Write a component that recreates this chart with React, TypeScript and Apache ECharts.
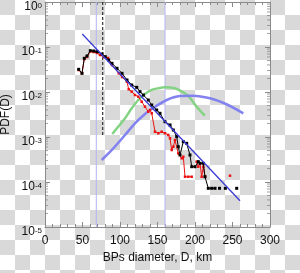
import React, { useEffect, useRef } from "react";
import * as echarts from "echarts";

// Axis tick values
const xTickValues = [0, 50, 100, 150, 200, 250, 300];
const yDecades = [1, 1e-1, 1e-2, 1e-3, 1e-4, 1e-5];
const yMinorTickValues: number[] = [];
for (let d = -5; d < 0; d++) for (let m = 2; m <= 9; m++) yMinorTickValues.push(m * Math.pow(10, d));

// Observed distribution (black, with gaps where PDF = 0)
const blackD = [44.9, 49.3, 52.4, 56, 60.4, 64.9, 69.3, 76, 80.4, 84.9, 89.3, 96, 102.7, 109.3, 115.6, 122.3, 126.7, 131.1, 137.7, 142.3, 148.9, 153.3, 160, 166.7, 171.1, 175.6, 177.7, 180, 184.4, 188.9, 193.3, 195.6, 200, 204.4, 206.7, 211.1, 213.3, 217.7, 222.3, 226.7, 229, 232.7, 236, 240.5, 248, 255.6];
const blackPdf: (number | null)[] = [0.0319, 0.026, 0.0561, 0.0631, 0.0828, 0.0815, 0.0787, 0.0699, 0.0609, 0.0514, 0.0434, 0.0336, 0.026, 0.0185, 0.0143, 0.0127, 0.0102, 0.00857, 0.00664, 0.00514, 0.00398, 0.00336, 0.00219, 0.00185, 0.00143, 0.00102, 0.000608, 0.000398, 0.000787, 0.000724, 0.000398, 0.000219, 0.000219, 0.000283, 0.00026, 0.00026, 0.000131, 7.24e-5, 7.24e-5, 7.24e-5, null, 7.24e-5, null, 7.24e-5, null, 7.24e-5];

// Second observed distribution (red)
const redD = [44.9, 49.3, 52.4, 56, 60.4, 64.9, 69.3, 73.3, 78.7, 84, 89.3, 98.3, 102.7, 109.3, 111.6, 115.6, 120, 124.4, 128.9, 133.3, 137.7, 140, 142.3, 146.7, 151.1, 155.6, 160, 164.4, 166.7, 168.9, 171.1, 173.3, 177.7, 182.3, 184.4, 186.7, 191.1, 195.6, 199, 202.2, 204.4, 206.7, 208.9, 211.1, 213.3, 230, 246.7];
const redPdf: (number | null)[] = [0.0308, 0.026, 0.0541, 0.06, 0.0794, 0.0774, 0.0736, 0.0664, 0.06, 0.057, 0.0398, 0.026, 0.0215, 0.0169, 0.0115, 0.0102, 0.00857, 0.00787, 0.00608, 0.00471, 0.00365, 0.00398, 0.00336, 0.00131, 0.00121, 0.00131, 0.00121, 0.00111, 0.000935, 0.000514, 0.000608, 0.000857, 0.000434, 0.000336, 0.000365, 0.000131, 0.000131, 0.000131, null, 0.000283, 0.000219, 0.00026, 0.000131, 0.000219, 0.000131, null, 0.000138];

// Green model curve
const greenD = [89.7, 106.7, 115.6, 124.4, 133.3, 142.3, 151.1, 160, 173.3, 180, 190, 196, 202.2, 213.3];
const greenPdf = [0.00117, 0.0026, 0.00434, 0.00664, 0.00903, 0.0111, 0.0121, 0.0127, 0.0121, 0.0107, 0.0085, 0.0065, 0.00471, 0.00297];

// Blue model curve
const blueD = [75.6, 91.1, 106.7, 120, 133.3, 140, 162.3, 180, 197.3, 220, 241.3, 264.4];
const bluePdf = [0.000308, 0.000561, 0.00111, 0.00201, 0.00324, 0.00398, 0.00664, 0.00815, 0.00828, 0.00724, 0.00541, 0.00336];

// Straight-line fit
const fitD = [49.7, 260];
const fitPdf = [0.194, 3.84e-5];

// Vertical reference lines
const blueVLines = [68.4, 160];
const dashedVLine = 76.9;
const dashedTop = 1;
const dashedBottom = 1e-3;

const zip = (xs: number[], ys: (number | null)[]) =>
  xs.map((x, i) => [x, ys[i] === null ? "-" : ys[i]]);

const FONT = "'Liberation Sans', Arial, Helvetica, sans-serif";
const AXIS_COLOR = "#8a8a8a";

export default function App() {
  const ref = useRef<HTMLDivElement>(null);
  useEffect(() => {
    const chart = echarts.init(ref.current!, null, { renderer: "svg" });
    const commonX = {
      type: "value",
      min: xTickValues[0],
      max: xTickValues[xTickValues.length - 1],
      interval: xTickValues[1] - xTickValues[0],
      axisLine: { show: true, onZero: false, lineStyle: { color: AXIS_COLOR, width: 1 } },
      axisTick: { show: true, inside: true, length: 5, lineStyle: { color: AXIS_COLOR } },
      minorTick: { show: true, splitNumber: 5, length: 3, lineStyle: { color: AXIS_COLOR } },
      splitLine: { show: false },
    };
    const commonY = {
      type: "log",
      logBase: 10,
      min: 1e-5,
      max: 1,
      interval: 1,
      axisLine: { show: true, onZero: false, lineStyle: { color: AXIS_COLOR, width: 1 } },
      axisTick: { show: true, inside: true, length: 5, lineStyle: { color: AXIS_COLOR } },
      splitLine: { show: false },
    };
    const minorTickStyle = { color: AXIS_COLOR };
    const gridBox = { left: 45, top: 2, width: 225, height: 225, containLabel: false, outerBoundsMode: "none" };
    chart.setOption({
      animation: false,
      grid: [gridBox, { ...gridBox }],
      xAxis: [
        { ...commonX, gridIndex: 0, position: "bottom", axisLabel: { show: false } },
        { ...commonX, gridIndex: 0, position: "top", axisLabel: { show: false } },
        {
          type: "value",
          gridIndex: 1,
          position: "bottom",
          min: xTickValues[0],
          max: xTickValues[xTickValues.length - 1],
          interval: xTickValues[1] - xTickValues[0],
          axisLine: { show: false, onZero: false },
          axisTick: { show: false },
          splitLine: { show: false },
          axisLabel: {
            show: true,
            showMinLabel: true,
            showMaxLabel: true,
            margin: 7,
            fontSize: 12,
            lineHeight: 12,
            fontFamily: FONT,
            color: "#111",
          },
          name: "BPs diameter, D, km",
          nameLocation: "middle",
          nameGap: 20,
          nameTextStyle: { fontSize: 12, fontFamily: FONT, color: "#111" },
        },
      ],
      yAxis: [
        {
          ...commonY,
          gridIndex: 0,
          position: "left",
          axisLabel: {
            show: true,
            showMinLabel: true,
            showMaxLabel: true,
            margin: 3,
            padding: [7, 0, 0, 0],
            fontFamily: FONT,
            color: "#111",
            formatter: (v: number) => {
              const e = Math.round(Math.log10(v));
              return `{b|10}{s|${e}}`;
            },
            rich: {
              b: { fontSize: 12, fontFamily: FONT, color: "#111", lineHeight: 9 },
              s: { fontSize: 8, fontFamily: FONT, color: "#111", verticalAlign: "top", lineHeight: 6 },
            },
          },
          name: "PDF(D)",
          nameLocation: "middle",
          nameGap: 28,
          nameRotate: 90,
          nameTextStyle: { fontSize: 12, fontFamily: FONT, color: "#111" },
        },
        { ...commonY, gridIndex: 0, position: "right", axisLabel: { show: false } },
        { ...commonY, gridIndex: 1, show: false },
      ],
      series: [
        {
          type: "scatter",
          silent: true,
          symbol: "rect",
          symbolSize: [3, 1],
          symbolOffset: [1.5, 0],
          itemStyle: minorTickStyle,
          data: yMinorTickValues.map((v) => [0, v]),
          z: 1,
        },
        {
          type: "scatter",
          silent: true,
          symbol: "rect",
          symbolSize: [3, 1],
          symbolOffset: [-1.5, 0],
          itemStyle: minorTickStyle,
          data: yMinorTickValues.map((v) => [300, v]),
          z: 1,
        },
        ...blueVLines.map((x) => ({
          type: "line",
          silent: true,
          showSymbol: false,
          lineStyle: { color: "#b4b4f4", width: 1 },
          data: [
            [x, yDecades[0]],
            [x, yDecades[yDecades.length - 1]],
          ],
          z: 2,
        })),
        {
          type: "line",
          silent: true,
          showSymbol: false,
          lineStyle: { color: "#333", width: 1.2, type: [3, 2] },
          data: [
            [dashedVLine, dashedTop],
            [dashedVLine, dashedBottom],
          ],
          z: 2,
        },
        {
          type: "line",
          showSymbol: false,
          smooth: 0.3,
          lineStyle: { color: "#84d384", width: 2.5 },
          data: zip(greenD, greenPdf),
          z: 3,
        },
        {
          type: "line",
          showSymbol: false,
          smooth: 0.3,
          lineStyle: { color: "#8282f0", width: 2.5 },
          data: zip(blueD, bluePdf),
          z: 3,
        },
        {
          type: "line",
          symbol: "rect",
          symbolSize: 2.5,
          showAllSymbol: true,
          connectNulls: false,
          lineStyle: { color: "#ee1111", width: 1 },
          itemStyle: { color: "#ee1111" },
          data: zip(redD, redPdf),
          z: 4,
        },
        {
          type: "line",
          symbol: "rect",
          symbolSize: 3,
          showAllSymbol: true,
          connectNulls: false,
          lineStyle: { color: "#000", width: 1 },
          itemStyle: { color: "#000" },
          data: zip(blackD, blackPdf),
          z: 5,
        },
        {
          type: "line",
          showSymbol: false,
          lineStyle: { color: "#3b3bd6", width: 1.3 },
          data: zip(fitD, fitPdf),
          z: 6,
        },
      ],
    });
    return () => chart.dispose();
  }, []);
  return (
    <div
      ref={ref}
      style={{
        position: "fixed",
        left: 0,
        top: 0,
        width: 300,
        height: 273,
        background:
          "repeating-conic-gradient(#ffffff 0% 25%, #d9d9d9 0% 50%) 0 0 / 30px 30px",
      }}
    />
  );
}
